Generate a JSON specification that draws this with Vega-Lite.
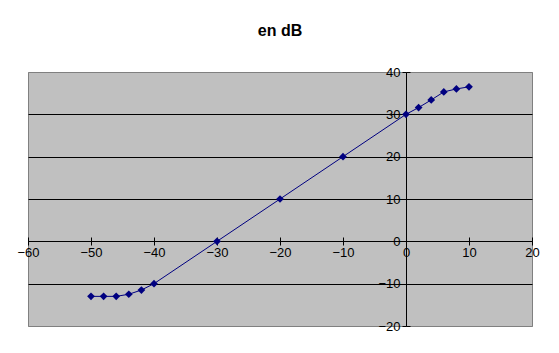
{
  "$schema": "https://vega.github.io/schema/vega-lite/v6.json",
  "width": 504,
  "height": 254,
  "autosize": {"type": "none"},
  "padding": {"left": 28, "top": 72, "right": 27, "bottom": 27},
  "background": "white",
  "title": {"text": "en dB", "font": "Liberation Sans", "fontSize": 16, "fontWeight": "bold", "color": "black", "anchor": "middle", "offset": 27},
  "config": {
    "view": {"fill": "#C0C0C0", "stroke": "#808080", "strokeWidth": 1},
    "axis": {"labelFont": "Liberation Sans", "labelFontSize": 13, "labelColor": "black", "domainColor": "black", "tickColor": "black", "tickSize": 4, "title": null, "labelFlush": false, "labelBound": false, "labelOverlap": false}
  },
  "data": {"values": [
    {"x": -50, "y": -13},
    {"x": -48, "y": -13},
    {"x": -46, "y": -13},
    {"x": -44, "y": -12.5},
    {"x": -42, "y": -11.5},
    {"x": -40, "y": -10},
    {"x": -30, "y": 0},
    {"x": -20, "y": 10},
    {"x": -10, "y": 20},
    {"x": 0, "y": 30},
    {"x": 2, "y": 31.6},
    {"x": 4, "y": 33.4},
    {"x": 6, "y": 35.3},
    {"x": 8, "y": 36},
    {"x": 10, "y": 36.5}
  ]},
  "layer": [
    {
      "mark": {"type": "line", "color": "#000080", "strokeWidth": 1},
      "encoding": {
        "x": {"field": "x", "type": "quantitative", "scale": {"domain": [-60, 20], "nice": false, "zero": false},
          "axis": {"orient": "bottom", "offset": -85, "values": [-60, -50, -40, -30, -20, -10, 0, 10, 20], "grid": false, "labelPadding": 1}},
        "y": {"field": "y", "type": "quantitative", "scale": {"domain": [-20, 40], "nice": false, "zero": false},
          "axis": {"orient": "left", "offset": -378, "values": [-20, -10, 0, 10, 20, 30, 40], "grid": true, "gridOpacity": 1, "gridWidth": 1,
            "gridColor": {"condition": {"test": "datum.value == 40 || datum.value == -20", "value": "#808080"}, "value": "black"}, "labelPadding": 2}}
      }
    },
    {
      "mark": {"type": "point", "shape": "diamond", "filled": true, "color": "#000080", "size": 60, "opacity": 1},
      "encoding": {
        "x": {"field": "x", "type": "quantitative", "scale": {"domain": [-60, 20], "nice": false, "zero": false},
          "axis": {"orient": "top", "offset": -169, "values": [-60, -50, -40, -30, -20, -10, 0, 10, 20], "grid": false, "labels": false, "domain": false}},
        "y": {"field": "y", "type": "quantitative", "scale": {"domain": [-20, 40], "nice": false, "zero": false},
          "axis": {"orient": "right", "offset": -126, "values": [-20, -10, 0, 10, 20, 30, 40], "grid": false, "labels": false, "domain": false}}
      }
    }
  ],
  "resolve": {"axis": {"x": "independent", "y": "independent"}}
}
